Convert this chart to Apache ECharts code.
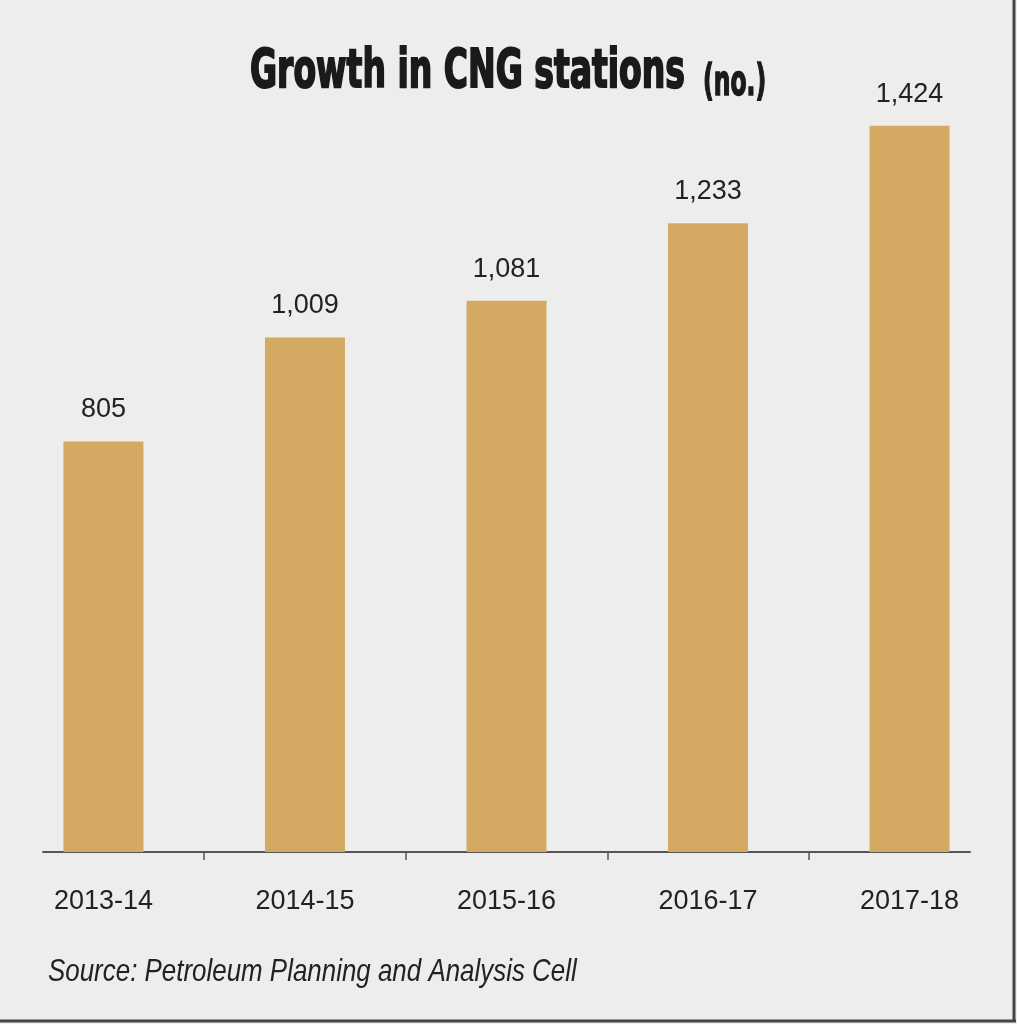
<!DOCTYPE html>
<html>
<head>
<meta charset="utf-8">
<script src="https://cdn.jsdelivr.net/npm/echarts@6/dist/echarts.min.js"></script>
<style>
  html, body { margin: 0; padding: 0; background: #ededed; }
  #chart { width: 1017px; height: 1024px; }
</style>
</head>
<body>
<div id="chart"></div>
<script>
// Data
var categories = ['2013-14', '2014-15', '2015-16', '2016-17', '2017-18'];
var stations = [805, 1009, 1081, 1233, 1424];
var tickPositions = [0.5, 1.5, 2.5, 3.5]; // ticks sit between the categories

var sans = "'Liberation Sans', Arial, sans-serif";
var heavy = "'DejaVu Sans Condensed', 'DejaVu Sans', sans-serif";

var chart = echarts.init(document.getElementById('chart'));

var barData = stations.map(function (v, i) { return [i, v]; });

var option = {
    backgroundColor: '#ededed',
    animation: false,
    grid: {
        left: 43,
        right: 47,
        top: 87,
        bottom: 172
    },
    xAxis: {
        type: 'value',
        min: -0.3,
        max: 4.3,
        splitLine: { show: false },
        axisLine: {
            show: true,
            lineStyle: { color: '#555', width: 2 }
        },
        axisTick: {
            show: true,
            length: 8,
            customValues: tickPositions,
            lineStyle: { color: '#555', width: 1.5 }
        },
        axisLabel: {
            customValues: [0, 1, 2, 3, 4],
            formatter: function (v) { return categories[Math.round(v)]; },
            margin: 36,
            fontFamily: sans,
            fontSize: 27,
            color: '#222'
        }
    },
    yAxis: {
        type: 'value',
        min: 0,
        max: 1500,
        show: false,
        splitLine: { show: false }
    },
    series: [
        {
            name: 'CNG stations',
            type: 'bar',
            barWidth: 80,
            data: barData,
            itemStyle: { color: '#d4aa62' },
            label: {
                show: true,
                position: 'top',
                distance: 18,
                fontFamily: sans,
                fontSize: 27,
                color: '#222',
                formatter: function (p) { return p.value[1].toLocaleString('en-US'); }
            }
        }
    ],
    graphic: [
        // title, squeezed sideways to look like the condensed headline face
        {
            type: 'text',
            x: 250,
            y: 46,
            scaleX: 0.68,
            style: {
                text: 'Growth in CNG stations',
                fontFamily: heavy,
                fontWeight: 'bold',
                fontSize: 54,
                fill: '#1a1a1a',
                stroke: '#1a1a1a',
                lineWidth: 2,
                verticalAlign: 'top'
            }
        },
        {
            type: 'text',
            x: 703,
            y: 63,
            scaleX: 0.62,
            style: {
                text: '(no.)',
                fontFamily: heavy,
                fontWeight: 'bold',
                fontSize: 42,
                fill: '#1a1a1a',
                stroke: '#1a1a1a',
                lineWidth: 1.5,
                verticalAlign: 'top'
            }
        },
        {
            type: 'text',
            x: 48,
            y: 956,
            scaleX: 0.81,
            style: {
                text: 'Source: Petroleum Planning and Analysis Cell',
                fontFamily: sans,
                fontStyle: 'italic',
                fontSize: 32,
                fill: '#222',
                verticalAlign: 'top'
            }
        },
        {
            type: 'line',
            shape: { x1: 1014, y1: 0, x2: 1014, y2: 1022 },
            style: { stroke: '#444', lineWidth: 3 }
        },
        {
            type: 'line',
            shape: { x1: 0, y1: 1021, x2: 1016, y2: 1021 },
            style: { stroke: '#444', lineWidth: 3 }
        }
    ]
};

chart.setOption(option);
</script>
</body>
</html>
